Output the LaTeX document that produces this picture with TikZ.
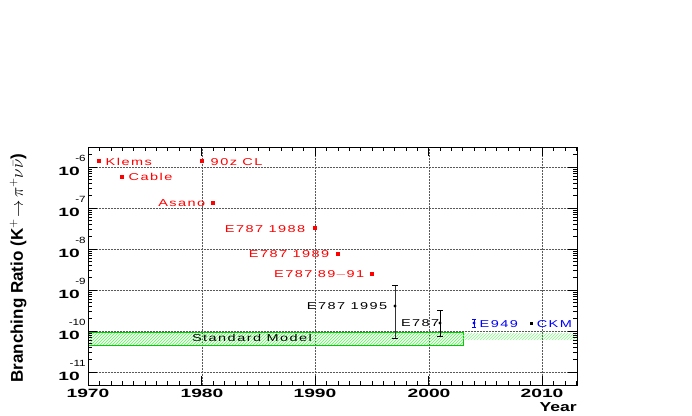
\documentclass[tikz,border=0pt]{standalone}
\usepackage{fontspec}
\setmainfont{Liberation Sans}
\newfontfamily\wide[LetterSpace=10]{Liberation Sans}
\usetikzlibrary{patterns}
\begin{document}
\begin{tikzpicture}[x=1pt,y=-1pt,
  lab/.style={font=\wide\fontsize{10}{11}\selectfont,xscale=1.45,inner sep=1pt},
  redt/.style={lab,text=red},
  blut/.style={lab,text=blue},
  blkt/.style={lab,text=black},
  pt/.style={fill,minimum size=3.5pt,inner sep=0pt},
  grid/.style={densely dotted,gray!70!black,line width=0.5pt},
  ax/.style={font=\bfseries\fontsize{12}{13}\selectfont,xscale=1.6,inner sep=0pt},
  ex/.style={font=\fontsize{9}{10}\selectfont,xscale=1.3,inner sep=0pt}]
\useasboundingbox (0,0) rectangle (692,415);
% grid
\foreach \x in {202,315,429,542} \draw[grid] (\x,147) -- (\x,385);
\foreach \y in {167,208,249,290,331,372} \draw[grid] (88,\y) -- (577,\y);
% band
\draw[green!80!black,pattern=north east lines,pattern color=green!70] (88,332) rectangle (463,345);
\fill[pattern=north east lines,pattern color=green!50] (463,333) rectangle (577,339);
\node[blkt] (sm) at (252,338) {Standard Model};
% frame
\draw[line width=0.8pt] (88,147) rectangle (577,385);
% x ticks
\foreach \i in {0,...,43} {\pgfmathsetmacro\xx{88+11.35*\i}
  \draw (\xx,385) -- (\xx,381); \draw (\xx,147) -- (\xx,151);}
\foreach \i in {0,10,20,30,40} {\pgfmathsetmacro\xx{88+11.35*\i}
  \draw (\xx,385) -- (\xx,376); \draw (\xx,147) -- (\xx,156);}
\foreach \yr/\xx in {1970/88,1980/202,1990/315,2000/429,2010/542}
  \node[ax] (x\yr) at (\xx,393) {\yr};
\node[font=\bfseries\fontsize{13}{14}\selectfont,xscale=1.35,inner sep=0pt,anchor=east] (yr) at (577,407) {Year};
% y ticks
\foreach \d in {-1,0,1,2,3,4,5} {
  \foreach \m in {1,...,9} {\pgfmathsetmacro\yy{167+41*\d-41*log10(\m)}
    \pgfmathparse{\yy>147 && \yy<385 ? 1 : 0}
    \ifnum\pgfmathresult=1
      \ifnum\m=1 \def\tl{9}\else\def\tl{4}\fi
      \draw (88,\yy) -- ++(\tl,0); \draw (577,\yy) -- ++(-\tl,0);
    \fi}}
\foreach \e/\yy in {6/167,7/208,8/249,9/290,10/331,11/372} {
  \node[ax,anchor=east] (y\e) at (80,\yy+4) {10};
  \node[ex,anchor=east] (e\e) at (86,\yy-9) {-\e};}
\node[rotate=90,font=\bfseries\fontsize{17}{18}\selectfont,inner sep=0pt] (ytitle) at (18,268) {Branching Ratio (K$^{+}\!\rightarrow\!\pi^{+}\nu\bar\nu$)};
% data
\begin{scope}[red]
\node[pt] (klems) at (99,161) {}; \node[redt,anchor=west] (tk) at (104,162) {Klems};
\node[pt] (cable) at (122,177) {}; \node[redt,anchor=west] (tc) at (127,177) {Cable};
\node[pt] (cl) at (202,161) {}; \node[redt,anchor=west] (tcl) at (209,162) {90z CL};
\node[pt] (asano) at (213,203) {}; \node[redt,anchor=east] (ta) at (207,203) {Asano};
\node[pt] (e88) at (315,228) {}; \node[redt,anchor=east] (t88) at (307,229) {E787 1988};
\node[pt] (e89) at (338,254) {}; \node[redt,anchor=east] (t89) at (331,254) {E787 1989};
\node[pt] (e91) at (372,274) {}; \node[redt,anchor=east] (t91) at (366,274) {E787 89$-$91};
\end{scope}
\draw[black!80] (395,285) -- (395,338); \draw (392,285)--(398,285); \draw (392,338)--(398,338);
\node[fill,circle,inner sep=1.2pt] (e95) at (395,306) {};
\node[blkt,anchor=east] (t95) at (389,306) {E787 1995};
\draw (440,310) -- (440,336); \draw (437,310)--(443,310); \draw (437,336)--(443,336);
\node[fill,circle,inner sep=1.2pt] (e01) at (440,323) {};
\node[blkt,anchor=east] (t01) at (441,323) {E787};
\begin{scope}[blue]
\draw (474,319) -- (474,327); \draw (472,319)--(476,319); \draw (472,327)--(476,327);
\node[fill,circle,inner sep=1.2pt] (e949) at (474,323) {};
\node[blut,anchor=west] (t949) at (478,324) {E949};
\end{scope}
\node[pt,minimum size=3pt] (ckm) at (531,323) {};
\node[blut,anchor=west] (tckm) at (535,324) {CKM};
\end{tikzpicture}
\end{document}
